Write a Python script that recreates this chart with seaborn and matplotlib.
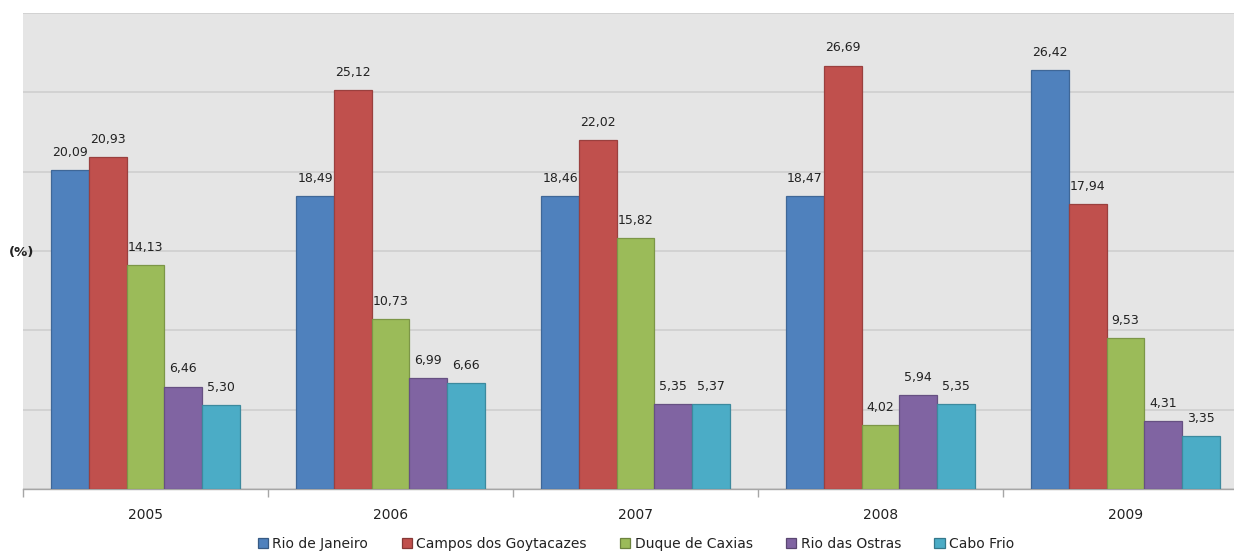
import numpy as np
import pandas as pd
import matplotlib
matplotlib.use("Agg")
import matplotlib.pyplot as plt
import matplotlib.colors as mcolors
import seaborn as sns

anos = ["2005", "2006", "2007", "2008", "2009"]
municipios = ["Rio de Janeiro", "Campos dos Goytacazes", "Duque de Caxias",
              "Rio das Ostras", "Cabo Frio"]
rio_de_janeiro = [20.09, 18.49, 18.46, 18.47, 26.42]
campos = [20.93, 25.12, 22.02, 26.69, 17.94]
duque_de_caxias = [14.13, 10.73, 15.82, 4.02, 9.53]
rio_das_ostras = [6.46, 6.99, 5.35, 5.94, 4.31]
cabo_frio = [5.30, 6.66, 5.37, 5.35, 3.35]

series = [rio_de_janeiro, campos, duque_de_caxias, rio_das_ostras, cabo_frio]
cores = ["#4F81BD", "#C0504D", "#9BBB59", "#8064A2", "#4BACC6"]

df = pd.DataFrame({
    "ano": [a for s in series for a in anos],
    "municipio": [m for m, s in zip(municipios, series) for _ in anos],
    "valor": [v for s in series for v in s],
})

sns.set_theme(style="white")
plt.rcParams["font.family"] = ["DejaVu Sans"]

fig = plt.figure(figsize=(12.34, 5.52), dpi=100)
# the plot area runs slightly past the right edge of the figure
ax = fig.add_axes([0.0186, 0.1141, 0.9927, 0.8623])
ax.set_facecolor("#E5E5E5")

sns.barplot(data=df, x="ano", y="valor", hue="municipio", order=anos,
            hue_order=municipios, palette=cores, saturation=1, width=0.77,
            dodge=True, ax=ax, legend=True, err_kws={"linewidth": 0})

def escurecer(c, f=0.8):
    r, g, b = mcolors.to_rgb(c)
    return (r * f, g * f, b * f)

for cont, cor, s in zip(ax.containers, cores, series):
    for p in cont:
        p.set_edgecolor(escurecer(cor))
        p.set_linewidth(0.9)
        p.set_zorder(3)
    ax.bar_label(cont, labels=[f"{v:.2f}".replace(".", ",") for v in s],
                 padding=8, fontsize=9, color="#222222")

ax.set_ylim(0, 30)
ax.set_xlim(-0.5, 4.5)
ax.set_yticks([0, 5, 10, 15, 20, 25, 30])
ax.set_yticklabels([])
ax.tick_params(axis="y", length=0)
ax.yaxis.grid(True, color="#CFCFCF", linewidth=1.2)
ax.set_axisbelow(True)

ax.set_xticks(range(len(anos)))
ax.set_xticklabels(anos, fontsize=10, color="#222222")
ax.set_xticks(np.arange(-0.5, 5.0, 1.0), minor=True)
ax.tick_params(axis="x", which="major", length=0, pad=14)
ax.tick_params(axis="x", which="minor", length=6, width=1, color="#A6A6A6",
               direction="out", bottom=True)

for lado in ["top", "right", "left"]:
    ax.spines[lado].set_visible(False)
ax.spines["bottom"].set_color("#A6A6A6")
ax.spines["bottom"].set_linewidth(1)

ax.set_xlabel("")
ax.set_ylabel("")
fig.text(0.007, 0.542, "(%)", fontsize=9.5, color="#222222",
         fontweight="bold", va="center", ha="left")

handles, labels = ax.get_legend_handles_labels()
for h, cor in zip(handles, cores):
    h.set_edgecolor(escurecer(cor, 0.7))
    h.set_linewidth(0.9)
leg = fig.legend(handles, labels, loc="center", bbox_to_anchor=(636 / 1234, 8 / 552),
                 ncol=5, frameon=False, fontsize=10, handlelength=0.75,
                 handleheight=0.75, handletextpad=0.3, columnspacing=2.4,
                 borderaxespad=0, borderpad=0)
for t in leg.get_texts():
    t.set_color("#222222")
if ax.get_legend() is not None:
    ax.get_legend().remove()

fig.savefig("out.png", dpi=100, facecolor="white")
